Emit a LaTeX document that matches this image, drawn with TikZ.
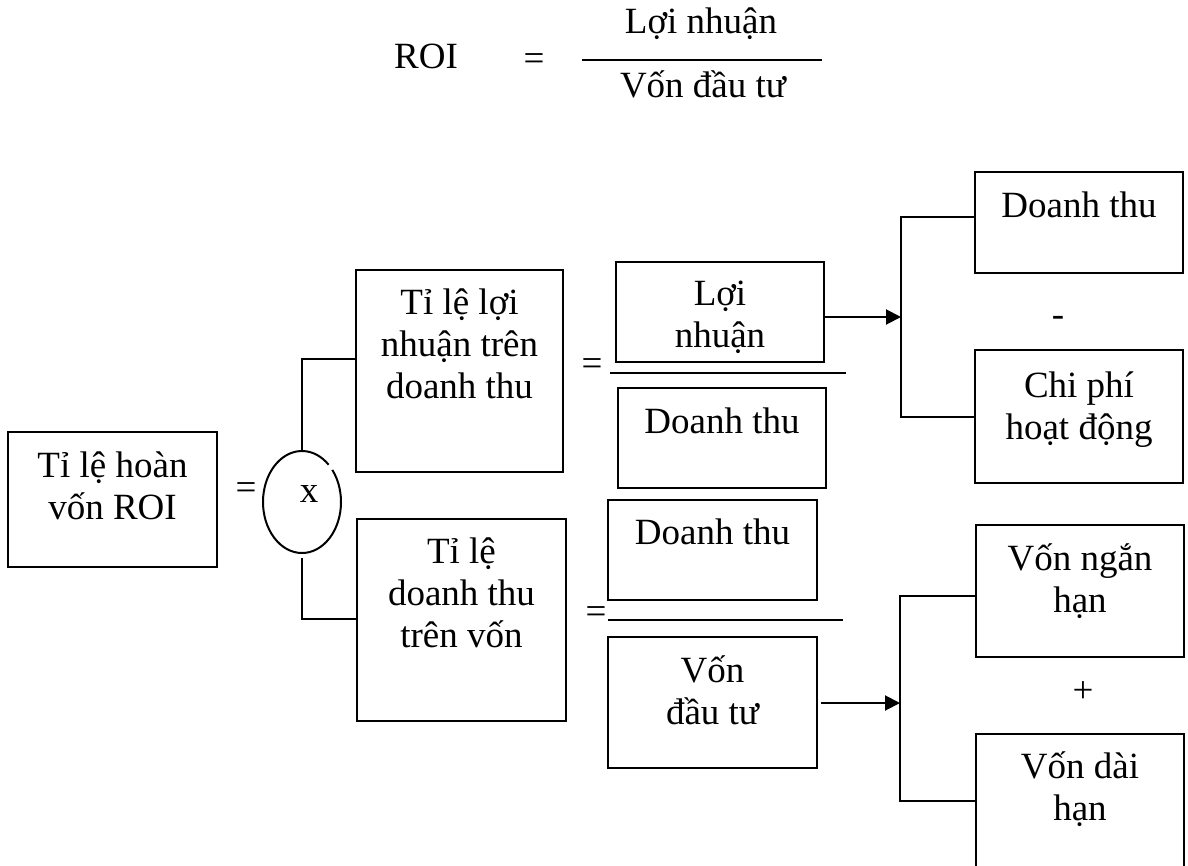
\documentclass[tikz,border=0pt]{standalone}
\usepackage{fontspec}
\setmainfont{Liberation Serif}
\usetikzlibrary{arrows.meta,shapes.geometric}
% zero-width strut that fixes the height of a first text line
\newcommand\tallstrut{\rule{0pt}{38pt}}

\begin{document}
\begin{tikzpicture}[x=1pt,y=-1pt,
  every node/.style={font=\fontsize{37}{42}\selectfont, inner sep=0pt},
  box/.style={draw, rectangle, line width=2pt},
  lbl/.style={anchor=north, align=center},
  sym/.style={anchor=base},
  link/.style={line width=2pt},
  arr/.style={link, -{Triangle[length=15pt,width=15pt]}}]

\useasboundingbox (0,0) rectangle (1188,865);

% ---- headline formula
\node[sym] (roiH) at (426,68) {ROI};
\node[sym] (eqH) at (534,70.5) {=};
\node[sym] (numH) at (701,33) {Lợi nhuận};
\node[sym] (denH) at (703,97) {Vốn đầu tư};
\draw[link] (582,60) -- (822,60);

% ---- boxes
\node[box, minimum width=209pt, minimum height=135pt] (roi) at (112.5,499.5) {};
\node[box, minimum width=207pt, minimum height=202pt] (tb)  at (459.5,371) {};
\node[box, minimum width=209pt, minimum height=202pt] (bb)  at (461.5,620) {};
\node[box, minimum width=208pt, minimum height=100pt] (ln)  at (720,312) {};
\node[box, minimum width=208pt, minimum height=100pt] (dt1) at (722,438) {};
\node[box, minimum width=209pt, minimum height=100pt] (dt2) at (712.5,550) {};
\node[box, minimum width=209pt, minimum height=131pt] (vdt) at (712.5,702.5) {};
\node[box, minimum width=208pt, minimum height=101pt] (dt3) at (1079,222.5) {};
\node[box, minimum width=208pt, minimum height=133pt] (cp)  at (1079,416.5) {};
\node[box, minimum width=208pt, minimum height=132pt] (vnh) at (1080,591) {};
\node[box, minimum width=208pt, minimum height=134pt] (vdh) at (1080,801) {};

% ---- box texts
\node[lbl] (roiT) at (112.5,439) {\tallstrut Tỉ lệ hoàn\\vốn ROI};
\node[lbl] (tbT)  at (459.5,276) {\tallstrut Tỉ lệ lợi\\nhuận trên\\doanh thu};
\node[lbl] (bbT)  at (461.5,525) {\tallstrut Tỉ lệ\\doanh thu\\trên vốn};
\node[lbl] (lnT)  at (720,267)   {\tallstrut Lợi\\nhuận};
\node[lbl] (dt1T) at (722,395)   {\tallstrut Doanh thu};
\node[lbl] (dt2T) at (712.5,506) {\tallstrut Doanh thu};
\node[lbl] (vdtT) at (712.5,644) {\tallstrut Vốn\\đầu tư};
\node[lbl] (dt3T) at (1079,179)  {\tallstrut Doanh thu};
\node[lbl] (cpT)  at (1079,359)  {\tallstrut Chi phí\\hoạt động};
\node[lbl] (vnhT) at (1080,532)  {\tallstrut Vốn ngắn\\hạn};
\node[lbl] (vdhT) at (1080,740)  {\tallstrut Vốn dài\\hạn};

% ---- operators
\node[sym] (eq1) at (246,499.5) {=};
\node[sym] (eq2) at (592,375.5) {=};
\node[sym] (eq3) at (596,623.5) {=};
\node[sym] (minus) at (1058,326) {-};
\node[sym] (plus) at (1083,702) {+};

% ---- multiplication ellipse (drawn with a small break at the upper right)
\node[ellipse, minimum width=78pt, minimum height=102pt] (ell) at (302,502) {};
\node[sym] (times) at (309,502) {x};
\draw[link] (ell.center) ++(-39:39 and 51)
  arc[start angle=-39, end angle=313, x radius=39, y radius=51];

% ---- fraction bars
\draw[link] (610,373) -- (846,373);
\draw[link] (608,620) -- (843,620);

% ---- connectors from the ellipse
\coordinate (tbin) at (356,359);
\coordinate (bbin) at (357,619);
\draw[link] (ell.north) |- (tbin);
\draw[link] ([yshift=-5pt]ell.south) |- (bbin);

% ---- profit breakdown
\coordinate (j1) at (901,317);
\draw[arr] (ln.east |- j1) -- (j1);
\draw[link] ([yshift=6pt]dt3.west) -| (j1) |- (cp.west);

% ---- capital breakdown
\coordinate (j2) at (900,703);
\draw[arr] ([xshift=3pt]vdt.east |- j2) -- (j2);
\draw[link] ([yshift=-5pt]vnh.west) -| (j2) |- (vdh.west);
\end{tikzpicture}
\end{document}
